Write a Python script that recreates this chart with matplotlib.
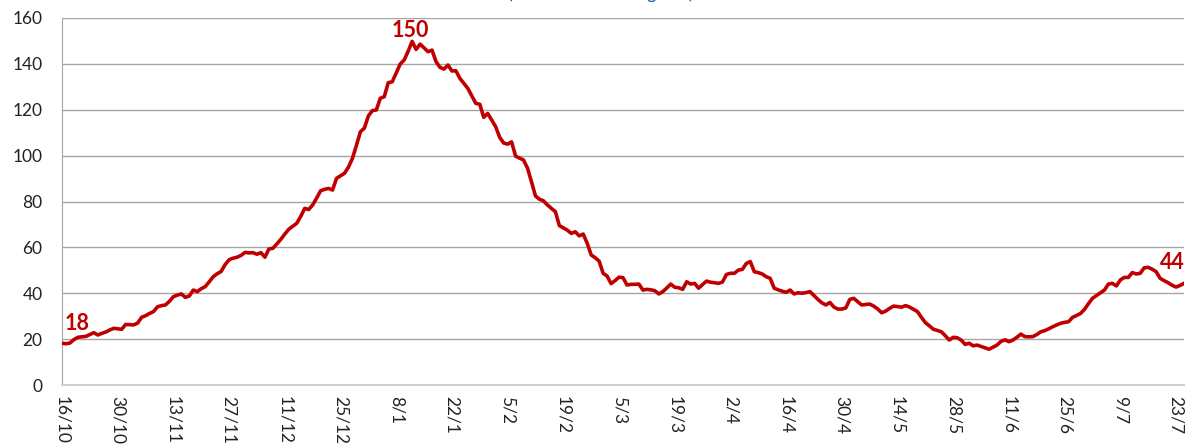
import matplotlib
matplotlib.use("Agg")
import matplotlib.pyplot as plt
import numpy as np

# daily values, 16/10 .. 25/7 (one row = 14 days)
values = [
    18.2, 18.0, 18.3, 19.8, 20.8, 21.0, 21.2, 22.0, 22.8, 21.8, 22.5, 23.1, 24.0, 24.7,
    24.5, 24.3, 26.4, 26.3, 26.2, 27.0, 29.5, 30.2, 31.2, 32.0, 34.1, 34.6, 34.9, 36.5,
    38.5, 39.2, 39.7, 38.2, 38.8, 41.4, 40.7, 42.0, 42.9, 45.0, 47.2, 48.5, 49.5, 52.5,
    54.6, 55.3, 55.7, 56.5, 57.8, 57.6, 57.7, 57.0, 57.7, 55.7, 59.3, 59.6, 61.5, 63.5,
    65.8, 67.9, 69.2, 70.5, 73.5, 77.0, 76.5, 78.5, 81.5, 84.7, 85.3, 85.7, 85.0, 90.1,
    91.2, 92.3, 95.0, 98.8, 104.5, 110.4, 112.0, 117.3, 119.6, 119.9, 125.0, 125.7, 131.8, 132.2,
    136.0, 139.9, 141.7, 145.5, 149.8, 146.3, 148.6, 147.0, 145.3, 146.0, 141.0, 138.5, 137.7, 139.5,
    136.9, 137.0, 133.7, 131.5, 129.3, 126.0, 122.8, 122.4, 116.7, 118.4, 115.5, 112.6, 108.0, 105.5,
    105.0, 106.0, 99.8, 98.9, 98.1, 94.5, 88.6, 82.4, 81.0, 80.3, 78.5, 77.0, 75.6, 69.5,
    68.5, 67.5, 66.1, 66.8, 65.0, 65.8, 61.8, 56.7, 55.5, 54.0, 48.7, 47.5, 44.2, 45.5,
    47.0, 46.8, 43.6, 43.9, 43.9, 44.0, 41.4, 41.7, 41.5, 41.1, 39.7, 40.7, 42.3, 44.0,
    42.6, 42.4, 41.7, 45.0, 44.0, 44.3, 42.2, 43.8, 45.3, 44.8, 44.6, 44.3, 44.9, 48.2,
    48.7, 48.7, 50.1, 50.4, 53.0, 53.8, 49.4, 49.0, 48.4, 47.2, 46.5, 42.2, 41.5, 40.9,
    40.4, 41.4, 39.7, 40.2, 40.0, 40.3, 40.7, 39.0, 37.3, 35.8, 34.9, 36.0, 34.0, 33.1,
    33.1, 33.6, 37.3, 37.8, 36.3, 34.9, 35.1, 35.3, 34.4, 33.2, 31.5, 32.2, 33.4, 34.4,
    34.2, 33.9, 34.6, 34.0, 33.0, 32.0, 29.5, 27.2, 25.8, 24.3, 23.8, 23.2, 21.5, 19.6,
    20.8, 20.6, 19.6, 17.7, 18.2, 17.1, 17.4, 16.8, 16.2, 15.6, 16.5, 17.4, 19.0, 19.7,
    18.9, 19.6, 20.8, 22.2, 21.1, 21.0, 21.1, 22.0, 23.2, 23.7, 24.5, 25.4, 26.2, 26.9,
    27.3, 27.6, 29.5, 30.3, 31.2, 33.0, 35.5, 37.8, 39.0, 40.2, 41.4, 44.0, 44.3, 43.2,
    45.8, 46.9, 46.9, 49.0, 48.4, 48.7, 51.1, 51.3, 50.5, 49.4, 46.5, 45.5, 44.6, 43.5,
    42.7, 43.4, 44.3,
]
tick_labels = ["16/10", "30/10", "13/11", "27/11", "11/12", "25/12", "8/1", "22/1",
               "5/2", "19/2", "5/3", "19/3", "2/4", "16/4", "30/4", "14/5", "28/5",
               "11/6", "25/6", "9/7", "23/7"]
# labelled points: (index, text)
labels = [(0, "18"), (88, "150"), (282, "44")]

plt.rcParams['font.family'] = ['Lato', 'DejaVu Sans']
red = '#C00000'

fig = plt.figure(figsize=(11.87, 4.47), dpi=100)
fig.set_facecolor('white')
ax = fig.add_axes([62/1187, 1 - 385/447, (1184 - 62)/1187, (385 - 18)/447])

x = np.arange(len(values))
ax.plot(x, values, color=red, lw=2.6, solid_joinstyle='round', zorder=3)

ax.set_xlim(0, len(values) - 1)
ax.set_ylim(0, 160)
ax.set_yticks(range(0, 161, 20))
ax.set_xticks(np.arange(len(tick_labels)) * 14)
ax.set_xticklabels(tick_labels, rotation=270, ha='center', va='top')
ax.tick_params(axis='both', length=0, labelsize=12.5, colors='#222222')
ax.tick_params(axis='y', pad=14)
ax.tick_params(axis='x', pad=8)
ax.grid(axis='y', color='#A6A6A6', lw=1)
ax.set_axisbelow(True)
for s in ['top', 'right']:
    ax.spines[s].set_visible(False)
ax.spines['left'].set_color('#A6A6A6')
ax.spines['bottom'].set_color('#D0D0D0')
ax.spines['bottom'].set_linewidth(1.5)

offsets = {0: (15, 13), 88: (-2, 4), 282: (-12, 14)}
for i, t in labels:
    ax.annotate(t, (x[i], values[i]), xytext=offsets[i], textcoords='offset pixels',
                ha='center', va='baseline', color=red, fontsize=15.5, fontweight='bold')

# title, mostly above the visible area (as in the reference)
fig.text(601/1187, 1 + 1/447, "(total across all regions)", ha='center', va='baseline',
         color='#1F5C99', fontsize=13)

fig.savefig('out.png', dpi=100, facecolor='white')
